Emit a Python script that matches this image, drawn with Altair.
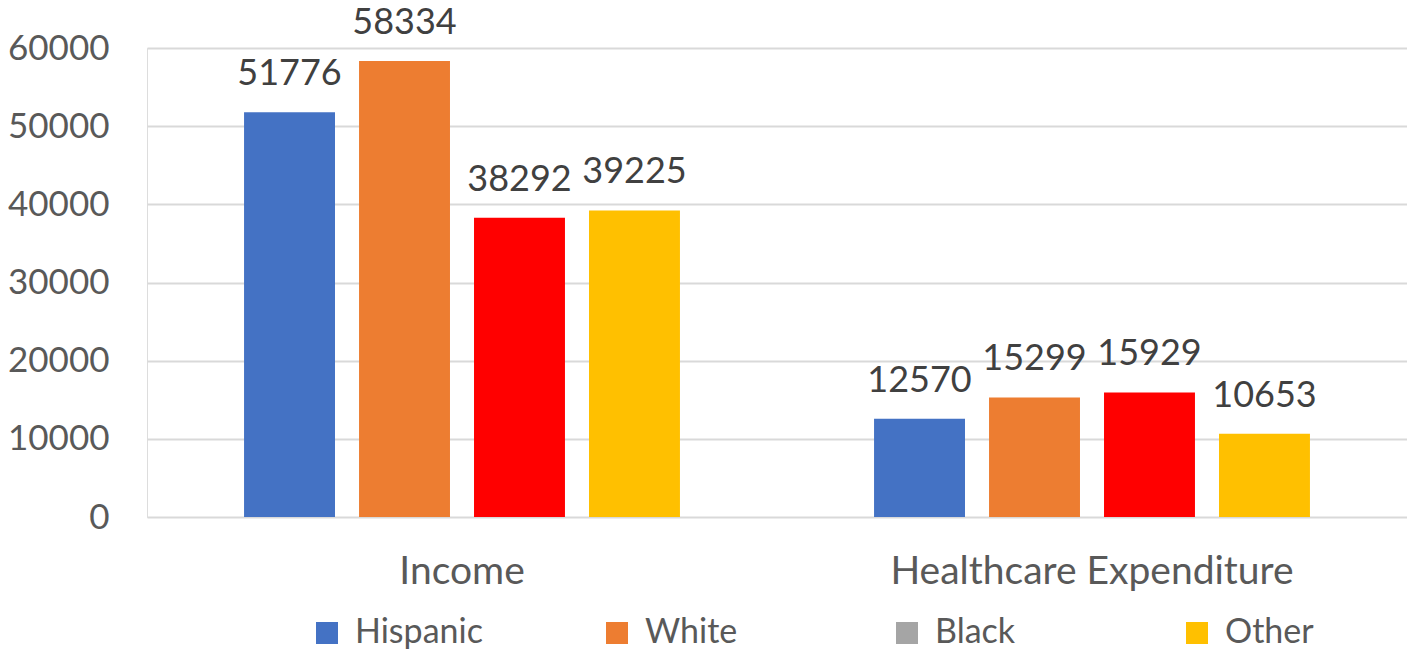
import altair as alt
import pandas as pd

categories = ["Income", "Income", "Income", "Income",
              "Healthcare Expenditure", "Healthcare Expenditure",
              "Healthcare Expenditure", "Healthcare Expenditure"]
groups = ["Hispanic", "White", "Black", "Other"] * 2
values = [51776, 58334, 38292, 39225, 12570, 15299, 15929, 10653]

group_order = ["Hispanic", "White", "Black", "Other"]
cat_order = ["Income", "Healthcare Expenditure"]
bar_colors = ["#4472C4", "#ED7D31", "#FF0000", "#FFC000"]
legend_colors = ["#4472C4", "#ED7D31", "#A5A5A5", "#FFC000"]
y_ticks = [0, 10000, 20000, 30000, 40000, 50000, 60000]

df = pd.DataFrame({"category": categories, "group": groups, "value": values})

FONT = "Lato"

x_enc = alt.X("category:N", sort=cat_order, title=None,
              scale=alt.Scale(paddingInner=0, paddingOuter=0),
              axis=alt.Axis(labelAngle=0, labelFontSize=39, labelColor="#595959",
                            labelFont=FONT, labelPadding=35, labelLimit=800,
                            domain=False, ticks=False, grid=False))
xo_enc = alt.XOffset("group:N", sort=group_order,
                     scale=alt.Scale(paddingInner=0.209, paddingOuter=0.844))
y_enc = alt.Y("value:Q", title=None,
              scale=alt.Scale(domain=[0, 60000], nice=False),
              axis=alt.Axis(values=y_ticks, format="d", labelFontSize=35,
                            labelColor="#595959",
                            labelFont=FONT, labelPadding=38, domain=False,
                            ticks=False, gridColor="#D9D9D9", gridWidth=2))

bars = alt.Chart(df).mark_bar().encode(
    x=x_enc, xOffset=xo_enc, y=y_enc,
    color=alt.Color("group:N", sort=group_order,
                    scale=alt.Scale(domain=group_order, range=bar_colors),
                    legend=None),
)

labels = alt.Chart(df).mark_text(
    baseline="alphabetic", dy=-27, fontSize=36, font=FONT, color="#404040"
).encode(x=x_enc, xOffset=xo_enc, y=y_enc, text=alt.Text("value:Q", format="d"))

legend_layer = alt.Chart(df).mark_square(opacity=0, size=1, filled=True).encode(
    x=x_enc, xOffset=xo_enc, y=y_enc,
    color=alt.Color("group:N", sort=group_order,
                    scale=alt.Scale(domain=group_order, range=legend_colors),
                    legend=alt.Legend(title=None, orient="none", direction="horizontal",
                                      columns=4, gridAlign="all", columnPadding=117,
                                      legendX=163, legendY=568,
                                      symbolType="square", symbolSize=484,
                                      symbolOpacity=1, symbolStrokeWidth=0,
                                      labelFontSize=34, labelFont=FONT,
                                      labelColor="#595959", labelOffset=11)),
)

chart = alt.layer(bars, labels, legend_layer).resolve_scale(
    color="independent"
).resolve_legend(color="independent").properties(
    width=1260, height=469,
    autosize=alt.AutoSizeParams(type="none"),
    padding={"left": 139, "top": 40, "right": 0, "bottom": 132},
).configure_view(stroke=None).configure(background="white")

chart.save("out.html", embed_options={"renderer": "svg", "actions": False})
